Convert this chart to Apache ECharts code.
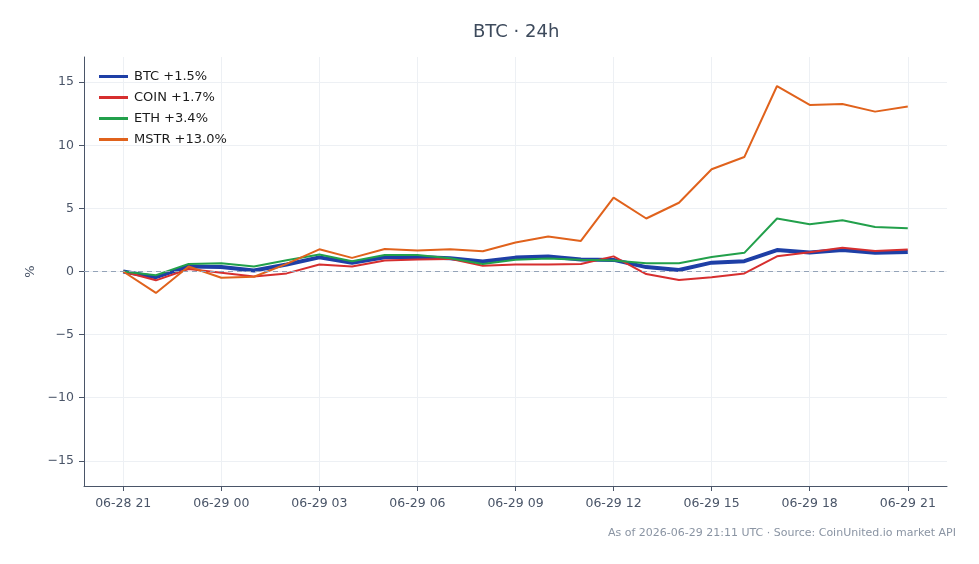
<!DOCTYPE html>
<html>
<head>
<meta charset="utf-8">
<script src="https://cdn.jsdelivr.net/npm/echarts@6/dist/echarts.min.js"></script>
<style>
  html, body { margin: 0; padding: 0; background: #fff; }
  #chart { width: 979px; height: 564px; }
</style>
</head>
<body>
<div id="chart"></div>
<script>
// hourly timestamps (UTC), 06-28 21:00 .. 06-29 21:00
const hours = [
  '06-28 21', '06-28 22', '06-28 23', '06-29 00', '06-29 01', '06-29 02', '06-29 03',
  '06-29 04', '06-29 05', '06-29 06', '06-29 07', '06-29 08', '06-29 09', '06-29 10',
  '06-29 11', '06-29 12', '06-29 13', '06-29 14', '06-29 15', '06-29 16', '06-29 17',
  '06-29 18', '06-29 19', '06-29 20', '06-29 21'
];
const xTicks = [0, 3, 6, 9, 12, 15, 18, 21, 24];   // index into hours
const yTicks = [-15, -10, -5, 0, 5, 10, 15];

// % change vs start of window
const btc  = [0, -0.45, 0.4, 0.35, 0.08, 0.55, 1.12, 0.7, 1.12, 1.14, 1.05, 0.8, 1.1,
              1.18, 0.95, 0.92, 0.35, 0.12, 0.7, 0.82, 1.7, 1.5, 1.7, 1.48, 1.55];
const coin = [0, -0.7, 0.2, -0.1, -0.4, -0.15, 0.55, 0.4, 0.87, 0.95, 1.0, 0.45, 0.55,
              0.55, 0.6, 1.2, -0.2, -0.68, -0.45, -0.15, 1.2, 1.53, 1.88, 1.62, 1.75];
const eth  = [0, -0.3, 0.6, 0.65, 0.4, 0.9, 1.35, 0.82, 1.3, 1.3, 1.05, 0.6, 0.93,
              1.03, 0.93, 0.87, 0.65, 0.65, 1.15, 1.48, 4.2, 3.75, 4.07, 3.53, 3.42];
const mstr = [0, -1.7, 0.4, -0.5, -0.42, 0.6, 1.76, 1.08, 1.78, 1.67, 1.77, 1.6, 2.3,
              2.77, 2.42, 5.85, 4.2, 5.45, 8.1, 9.07, 14.7, 13.2, 13.28, 12.67, 13.07];

const names = ['BTC +1.5%', 'COIN +1.7%', 'ETH +3.4%', 'MSTR +13.0%'];

const font = 'DejaVu Sans, sans-serif';
const axisColor = '#4a5568';

function pairs(arr) {
  return arr.map((v, i) => [i, v]);
}

function line(name, values, color, width) {
  return {
    name: name,
    type: 'line',
    data: pairs(values),
    showSymbol: false,
    symbol: 'none',
    color: color,
    lineStyle: { color: color, width: width },
    emphasis: { disabled: true },
    animation: false
  };
}

const chart = echarts.init(document.getElementById('chart'));

const series = [
  line(names[0], btc, '#1e3fa6', 4),
  line(names[1], coin, '#d62f2f', 2),
  line(names[2], eth, '#22a04b', 2),
  line(names[3], mstr, '#e0621c', 2)
];
// zero reference line
series[0].markLine = {
  silent: true,
  symbol: 'none',
  label: { show: false },
  lineStyle: { color: '#94a3b8', type: [5, 4], width: 1 },
  data: [{ yAxis: 0 }],
  animation: false
};

chart.setOption({
  backgroundColor: '#fff',
  animation: false,
  title: {
    text: 'BTC · 24h',
    left: 468,
    top: 18,
    textStyle: { fontFamily: font, fontSize: 18, fontWeight: 'normal', color: '#3d4a5c' }
  },
  legend: {
    orient: 'vertical',
    left: 94,
    top: 65,
    itemWidth: 29,
    itemHeight: 3,
    itemGap: 8,
    icon: 'rect',
    data: names,
    textStyle: { fontFamily: font, fontSize: 13, color: '#1a1a1a', padding: [0, 0, 0, 1] }
  },
  grid: { left: 84, right: 32, top: 57, bottom: 78, containLabel: false },
  xAxis: {
    type: 'value',
    min: -1.2,
    max: 25.2,
    axisLine: { show: true, onZero: false, lineStyle: { color: axisColor, width: 1 } },
    axisTick: { show: true, customValues: xTicks, length: 5, lineStyle: { color: axisColor } },
    axisLabel: {
      customValues: xTicks,
      formatter: v => hours[Math.round(v)] || '',
      fontFamily: font, fontSize: 12.5, color: axisColor, margin: 11
    },
    splitLine: { show: true, lineStyle: { color: '#edf0f4', width: 1 } }
  },
  yAxis: {
    type: 'value',
    min: -17,
    max: 17,
    name: '%',
    nameLocation: 'middle',
    nameGap: 47,
    nameTextStyle: { fontFamily: font, fontSize: 13, color: axisColor },
    axisLine: { show: true, onZero: false, lineStyle: { color: axisColor, width: 1 } },
    axisTick: { show: true, customValues: yTicks, length: 5, lineStyle: { color: axisColor } },
    axisLabel: {
      customValues: yTicks,
      formatter: v => (v < 0 ? '\u2212' + Math.abs(v) : String(v)),
      fontFamily: font, fontSize: 12.5, color: axisColor, margin: 10
    },
    splitLine: { show: true, lineStyle: { color: '#edf0f4', width: 1 } }
  },
  graphic: [{
    type: 'text',
    right: 23,
    top: 528,
    style: {
      text: 'As of 2026-06-29 21:11 UTC · Source: CoinUnited.io market API',
      fontFamily: font,
      fontSize: 11,
      fill: '#8a94a3'
    }
  }],
  series: series
});
</script>
</body>
</html>
